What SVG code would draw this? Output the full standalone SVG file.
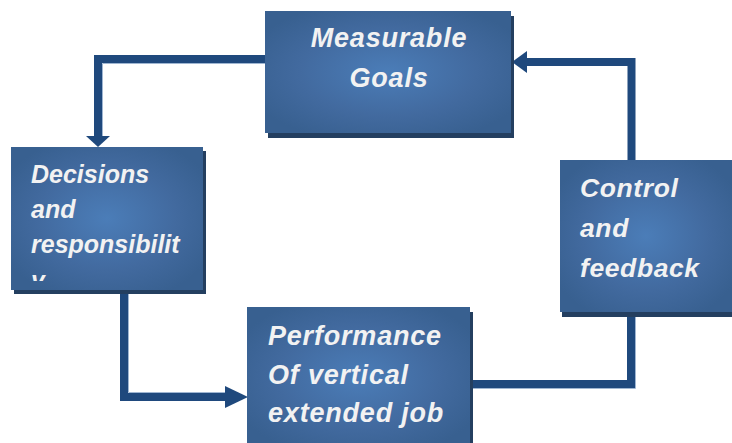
<svg xmlns="http://www.w3.org/2000/svg" width="732" height="443" viewBox="0 0 732 443">
<defs>
<radialGradient id="g" cx="0.5" cy="0.5" r="0.6">
<stop offset="0" stop-color="#4b7db8"/>
<stop offset="0.6" stop-color="#426a9f"/>
<stop offset="1" stop-color="#386090"/>
</radialGradient>
<marker id="ah" viewBox="0 0 12 12" refX="12" refY="6" markerWidth="12" markerHeight="12" markerUnits="userSpaceOnUse" orient="auto" overflow="visible">
<path d="M0,0 L12,6 L0,12 Z" fill="#1f497d"/>
</marker>
<clipPath id="clipD"><rect x="11" y="147" width="192" height="134"/></clipPath>
</defs>
<style>
.box{fill:url(#g)}
.sh{fill:#243f60}
.t{font-family:"Liberation Sans",Arial,sans-serif;font-weight:bold;font-style:italic;fill:#f2f2f2}
.w{letter-spacing:0.8px}
.c{fill:none;stroke:#1f497d;stroke-width:8;stroke-linejoin:miter}
.hl{fill:none;stroke:#9fb6d2;stroke-width:1}
</style>
<rect width="732" height="443" fill="#ffffff"/>
<g id="connectors">
<polyline class="c" points="265,59 98,59 98,136"/>
<path d="M86,136 L110,136 L98,147 Z" fill="#1f497d"/>
<polyline class="c" points="631.5,160 631.5,62 527,62"/>
<path d="M527,51 L527,73 L512,62 Z" fill="#1f497d"/>
<polyline class="c" points="124,290 124,397 225,397"/>
<path d="M225,386 L225,408 L248,397 Z" fill="#1f497d"/>
<polyline class="c" points="470,384 631,384 631,312"/>
<polyline class="hl" points="102.5,136 102.5,63.5 265,63.5"/>
<polyline class="hl" points="128.5,290 128.5,392.5 225,392.5"/>
<polyline class="hl" points="473,388.5 635.5,388.5 635.5,317"/>
</g>
<g id="measurable-goals">
<rect class="sh" x="268" y="16" width="246" height="122"/>
<rect class="box" x="265" y="11" width="246" height="122"/>
<text class="t w" font-size="27" x="389" y="47" text-anchor="middle">Measurable</text>
<text class="t w" font-size="27" x="389" y="87" text-anchor="middle">Goals</text>
</g>
<g id="decisions">
<rect class="sh" x="14" y="151" width="192" height="143"/>
<rect class="box" x="11" y="147" width="192" height="143"/>
<g clip-path="url(#clipD)">
<text class="t" font-size="25" x="31" y="183">Decisions</text>
<text class="t" font-size="25" x="31" y="218">and</text>
<text class="t" font-size="25" x="31" y="253">responsibilit</text>
<text class="t" font-size="25" x="31" y="289">y</text>
</g>
</g>
<g id="performance">
<rect class="sh" x="250" y="312" width="223" height="140"/>
<rect class="box" x="247" y="307" width="223" height="140"/>
<text class="t w" font-size="27" x="268" y="345">Performance</text>
<text class="t w" font-size="27" x="268" y="384">Of vertical</text>
<text class="t w" font-size="27" x="268" y="422">extended job</text>
</g>
<g id="control">
<rect class="sh" x="562" y="165" width="172" height="152"/>
<rect class="box" x="560" y="160" width="172" height="152"/>
<text class="t" font-size="26.5" x="580" y="197" letter-spacing="0.6">Control</text>
<text class="t" font-size="26.5" x="580" y="237" letter-spacing="0.6">and</text>
<text class="t" font-size="26.5" x="580" y="277" letter-spacing="0.6">feedback</text>
</g>
</svg>
